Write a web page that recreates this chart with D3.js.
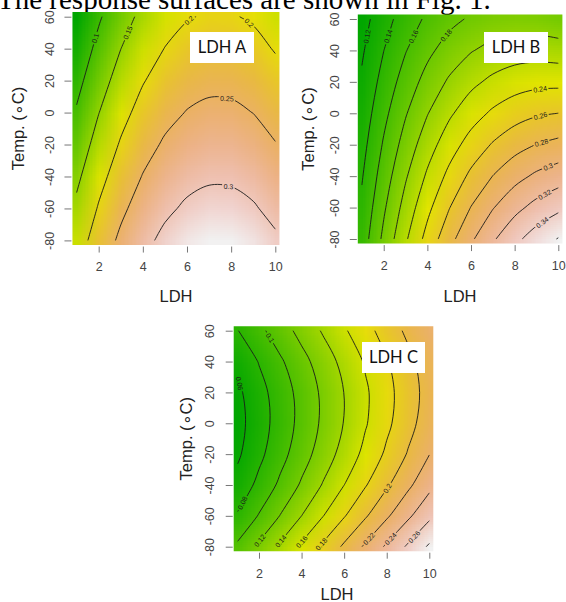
<!DOCTYPE html>
<html>
<head>
<meta charset="utf-8">
<script src="https://cdn.jsdelivr.net/npm/d3@7"></script>
<style>
  body { margin: 0; background: #fff; }
  svg { display: block; }
</style>
</head>
<body>
<div id="my_dataviz"></div>
<script>

// surface grid: columns = LDH, rows = temperature (top row first)
var ldh = [1, 2, 3, 4, 5, 6, 7, 8, 9, 10];
var temp = [60, 40, 20, 0, -20, -40, -60, -80];
var xTicks = [2, 4, 6, 8, 10];
var yTicks = [-80, -60, -40, -20, 0, 20, 40, 60];

var surfaceA = [
    [0.0498, 0.0944, 0.1314, 0.1609, 0.1828, 0.1972, 0.2040, 0.2032, 0.1949, 0.1790],
    [0.0680, 0.1126, 0.1496, 0.1791, 0.2010, 0.2154, 0.2222, 0.2214, 0.2131, 0.1972],
    [0.0862, 0.1308, 0.1678, 0.1973, 0.2192, 0.2336, 0.2404, 0.2396, 0.2313, 0.2154],
    [0.1044, 0.1490, 0.1860, 0.2155, 0.2374, 0.2518, 0.2586, 0.2578, 0.2495, 0.2336],
    [0.1226, 0.1672, 0.2042, 0.2337, 0.2556, 0.2700, 0.2768, 0.2760, 0.2677, 0.2518],
    [0.1408, 0.1854, 0.2224, 0.2519, 0.2738, 0.2882, 0.2950, 0.2942, 0.2859, 0.2700],
    [0.1590, 0.2036, 0.2406, 0.2701, 0.2920, 0.3064, 0.3132, 0.3124, 0.3041, 0.2882],
    [0.1772, 0.2218, 0.2588, 0.2883, 0.3102, 0.3246, 0.3314, 0.3306, 0.3223, 0.3064]
];

var surfaceB = [
    [0.1122, 0.1323, 0.1494, 0.1634, 0.1744, 0.1825, 0.1875, 0.1895, 0.1885, 0.1845],
    [0.1175, 0.1398, 0.1590, 0.1753, 0.1886, 0.1988, 0.2060, 0.2103, 0.2115, 0.2097],
    [0.1227, 0.1472, 0.1687, 0.1872, 0.2027, 0.2152, 0.2246, 0.2311, 0.2345, 0.2349],
    [0.1280, 0.1547, 0.1784, 0.1991, 0.2168, 0.2315, 0.2432, 0.2518, 0.2575, 0.2601],
    [0.1332, 0.1622, 0.1881, 0.2110, 0.2310, 0.2479, 0.2617, 0.2726, 0.2805, 0.2854],
    [0.1385, 0.1697, 0.1978, 0.2230, 0.2451, 0.2642, 0.2803, 0.2934, 0.3035, 0.3106],
    [0.1438, 0.1771, 0.2075, 0.2349, 0.2592, 0.2806, 0.2989, 0.3142, 0.3265, 0.3358],
    [0.1490, 0.1846, 0.2172, 0.2468, 0.2733, 0.2969, 0.3174, 0.3350, 0.3495, 0.3610]
];

var surfaceC = [
    [0.0794, 0.0950, 0.1106, 0.1263, 0.1419, 0.1575, 0.1731, 0.1887, 0.2043, 0.2199],
    [0.0647, 0.0810, 0.0972, 0.1134, 0.1296, 0.1459, 0.1621, 0.1783, 0.1946, 0.2108],
    [0.0561, 0.0730, 0.0898, 0.1066, 0.1235, 0.1403, 0.1571, 0.1740, 0.1908, 0.2077],
    [0.0536, 0.0710, 0.0885, 0.1059, 0.1234, 0.1408, 0.1583, 0.1757, 0.1932, 0.2106],
    [0.0570, 0.0751, 0.0932, 0.1112, 0.1293, 0.1473, 0.1654, 0.1835, 0.2015, 0.2196],
    [0.0666, 0.0852, 0.1039, 0.1226, 0.1413, 0.1599, 0.1786, 0.1973, 0.2160, 0.2346],
    [0.0822, 0.1014, 0.1207, 0.1400, 0.1593, 0.1786, 0.1979, 0.2172, 0.2364, 0.2557],
    [0.1038, 0.1237, 0.1436, 0.1635, 0.1834, 0.2033, 0.2232, 0.2431, 0.2630, 0.2829]
];

var levelsA = [0.1, 0.15, 0.2, 0.25, 0.3];
var levelsB = [0.12, 0.14, 0.16, 0.18, 0.2, 0.22, 0.24, 0.26, 0.28, 0.3, 0.32, 0.34, 0.36];
var levelsC = [0.06, 0.08, 0.1, 0.12, 0.14, 0.16, 0.18, 0.2, 0.22, 0.24, 0.26, 0.28];

// contour labels: [text, LDH, temp] where R put them
var labelsA = [["0.1", 1.88, 46.4], ["0.15", 3.39, 49.6], ["0.2", 6.17, 55.8],
    ["0.2", 8.85, 56.9], ["0.25", 7.8, 7.3], ["0.3", 7.87, -47.6]];
var labelsB = [["0.12", 1.25, 48.8], ["0.14", 2.24, 48.8], ["0.16", 3.36, 48.8],
    ["0.18", 4.84, 49.8], ["0.2", 8.89, 53], ["0.24", 9.16, 17.2], ["0.26", 9.16, 0.3],
    ["0.28", 9.19, -16.9], ["0.3", 9.47, -31.7], ["0.32", 9.34, -50.7], ["0.34", 9.23, -68.7]];
var labelsC = [["0.06", 1.1, 25.9], ["0.08", 1.26, -51.9], ["0.1", 2.6, 56],
    ["0.12", 2.0, -75.6], ["0.14", 2.95, -75.6], ["0.16", 4.0, -76.7], ["0.18", 4.98, -78.9],
    ["0.2", 7.92, -41], ["0.22", 7.06, -73.5], ["0.24", 8.08, -73.5], ["0.26", 9.09, -71]];

var panelNames = ["LDH A", "LDH B", "LDH C"];
var caption = "The response surfaces are shown in Fig. 1.";

var sans = "'Liberation Sans', Arial, sans-serif";

var svg = d3.select("#my_dataviz")
    .append("svg")
    .attr("width", 566)
    .attr("height", 602);

// cut-off line of the page text above the figure
svg.append("text")
    .attr("x", -3)
    .attr("y", 9)
    .style("font-family", "'Liberation Serif', 'Times New Roman', serif")
    .style("font-size", "29px")
    .attr("fill", "#000")
    .text(caption);

// R terrain.colors ramp (hsv based)
function terrain(t) {
    var h, s, v, u;
    if (t < 0.5) {
        u = t / 0.5;
        h = 120 - 60 * u; s = 1; v = 0.65 + 0.25 * u;
    } else {
        u = (t - 0.5) / 0.5;
        h = 60 - 60 * u; s = 1 - u; v = 0.9 + 0.05 * u;
    }
    var l = v * (1 - s / 2);
    var sl = (l === 0 || l === 1) ? 0 : (v - l) / Math.min(l, 1 - l);
    return d3.hsl(h, sl, l).formatRgb();
}

// keep only the real iso-line pieces of a contour ring (drop the grid border)
function isoLines(ring, nx, ny) {
    var pts = ring.slice();
    var first = pts[0], last = pts[pts.length - 1];
    if (first[0] === last[0] && first[1] === last[1]) pts.pop();
    var inside = function (q) {
        return q[0] >= 0.5 - 1e-9 && q[0] <= nx - 0.5 + 1e-9 && q[1] >= 0.5 - 1e-9 && q[1] <= ny - 0.5 + 1e-9;
    };
    var start = pts.findIndex(function (q) { return !inside(q); });
    if (start < 0) return [{ pts: pts, closed: true }];
    var out = [], cur = [];
    for (var k = 0; k < pts.length; k++) {
        var q = pts[(start + k) % pts.length];
        if (inside(q)) cur.push(q);
        else { if (cur.length > 1) out.push({ pts: cur }); cur = []; }
    }
    if (cur.length > 1) out.push({ pts: cur });
    return out;
}

function nearest(lines, px, py) {
    var best = null;
    lines.forEach(function (l) {
        var n = l.pts.length;
        for (var k = 0; k < n - 1; k++) {
            var a = l.pts[k], b = l.pts[k + 1];
            var vx = b[0] - a[0], vy = b[1] - a[1];
            var len2 = vx * vx + vy * vy || 1e-9;
            var t = Math.max(0, Math.min(1, ((px - a[0]) * vx + (py - a[1]) * vy) / len2));
            var qx = a[0] + t * vx, qy = a[1] + t * vy;
            var d = (qx - px) * (qx - px) + (qy - py) * (qy - py);
            if (!best || d < best.d) {
                var p0 = l.pts[Math.max(0, k - 1)], p1 = l.pts[Math.min(n - 1, k + 2)];
                best = { d: d, x: qx, y: qy, angle: Math.atan2(p1[1] - p0[1], p1[0] - p0[0]) * 180 / Math.PI };
            }
        }
    });
    return best;
}

var panels = [
    { z: surfaceA, levels: levelsA, labels: labelsA, xr: [76.6, 275.3], yr: [16.7, 240.4],
      yLabOff: 17.5, ytX: 24, xt: [176, 301.5], box: [190, 32, 64, 31] },
    { z: surfaceB, levels: levelsB, labels: labelsB, xr: [361.9, 558.3], yr: [19, 239],
      yLabOff: 17.5, ytX: 314, xt: [460, 301.5], box: [484, 32, 64, 31] },
    { z: surfaceC, levels: levelsC, labels: labelsC, xr: [237.7, 429.3], yr: [330.7, 546.7],
      yLabOff: 18.5, ytX: 192, xt: [337, 599.5], box: [362, 342, 63, 31] }
];

panels.forEach(function (p, i) {
    var nx = ldh.length, ny = temp.length;
    var x = d3.scaleLinear().domain([ldh[0], ldh[nx - 1]]).range(p.xr);
    var y = d3.scaleLinear().domain([temp[0], temp[ny - 1]]).range(p.yr);
    var values = d3.merge(p.z);
    var color = d3.scaleSequential(terrain).domain(d3.extent(values));

    // the R image was a 25x25 grid, so it runs half a cell past the data range
    var hx = (ldh[nx - 1] - ldh[0]) / 48, hy = (temp[0] - temp[ny - 1]) / 48;
    var left = x(ldh[0] - hx), right = x(ldh[nx - 1] + hx);
    var top = y(temp[0] + hy), bottom = y(temp[ny - 1] - hy);

    var g = svg.append("g");

    g.append("clipPath").attr("id", "clip" + i)
        .append("rect")
        .attr("x", left).attr("y", top)
        .attr("width", right - left).attr("height", bottom - top);

    // heat map: one pixel per grid value, smoothed when scaled up
    var canvas = document.createElement("canvas");
    canvas.width = nx;
    canvas.height = ny;
    var ctx = canvas.getContext("2d");
    p.z.forEach(function (row, r) {
        row.forEach(function (v, c) {
            ctx.fillStyle = color(v);
            ctx.fillRect(c, r, 1, 1);
        });
    });
    var cw = x(ldh[1]) - x(ldh[0]), ch = y(temp[1]) - y(temp[0]);
    g.append("image")
        .attr("href", canvas.toDataURL())
        .attr("x", x(ldh[0]) - cw / 2)
        .attr("y", y(temp[0]) - ch / 2)
        .attr("width", cw * nx)
        .attr("height", ch * ny)
        .attr("preserveAspectRatio", "none")
        .attr("clip-path", "url(#clip" + i + ")");

    // contour lines
    var gx = d3.scaleLinear().domain([0.5, nx - 0.5]).range([ldh[0], ldh[nx - 1]]);
    var gy = d3.scaleLinear().domain([0.5, ny - 0.5]).range([temp[0], temp[ny - 1]]);
    var contours = d3.contours().size([nx, ny]).thresholds(p.levels)(values);

    var lines = [];
    contours.forEach(function (c) {
        c.coordinates.forEach(function (poly) {
            poly.forEach(function (ring) {
                isoLines(ring, nx, ny).forEach(function (l) {
                    lines.push({
                        value: c.value,
                        closed: l.closed,
                        pts: l.pts.map(function (q) { return [x(gx(q[0])), y(gy(q[1]))]; })
                    });
                });
            });
        });
    });

    var mask = g.append("mask").attr("id", "gap" + i)
        .attr("maskUnits", "userSpaceOnUse")
        .attr("x", 0).attr("y", 0).attr("width", 566).attr("height", 602);
    mask.append("rect")
        .attr("x", 0).attr("y", 0).attr("width", 566).attr("height", 602)
        .attr("fill", "white");

    var open = d3.line().curve(d3.curveCatmullRom.alpha(0.5));
    var shut = d3.line().curve(d3.curveCatmullRomClosed.alpha(0.5));

    g.append("g")
        .attr("clip-path", "url(#clip" + i + ")")
        .append("g")
        .attr("mask", "url(#gap" + i + ")")
        .selectAll("path")
        .data(lines)
        .enter().append("path")
        .attr("d", function (d) { return d.closed ? shut(d.pts) : open(d.pts); })
        .attr("fill", "none")
        .attr("stroke", "#1a1a1a")
        .attr("stroke-width", 0.9);

    // contour labels sit in a gap of their line
    p.labels.forEach(function (lab) {
        var mine = lines.filter(function (l) { return Math.abs(l.value - (+lab[0])) < 1e-6; });
        var spot = nearest(mine, x(lab[1]), y(lab[2]));
        if (!spot) return;
        var a = spot.angle;
        if (a > 90) a -= 180;
        if (a < -90) a += 180;
        var tr = "translate(" + spot.x + "," + spot.y + ") rotate(" + a + ")";
        var t = g.append("text")
            .attr("transform", tr)
            .attr("dy", "0.35em")
            .style("text-anchor", "middle")
            .style("font-family", sans)
            .style("font-size", "7px")
            .attr("fill", "#1a1a1a")
            .text(lab[0]);
        var w = t.node().getComputedTextLength() + 3;
        mask.append("rect")
            .attr("transform", tr)
            .attr("x", -w / 2).attr("y", -3.5)
            .attr("width", w).attr("height", 7)
            .attr("fill", "black");
    });

    // axes, R style: ticks only
    var xAxis = g.append("g")
        .attr("transform", "translate(0," + (bottom + 1.5) + ")")
        .call(d3.axisBottom(x).tickValues(xTicks).tickSize(6).tickPadding(10).tickSizeOuter(0)
            .tickFormat(function (d) { return String(d); }));
    xAxis.select(".domain").remove();
    xAxis.selectAll("line").attr("stroke", "#777");
    xAxis.selectAll("text")
        .attr("fill", "#444")
        .style("font-family", sans)
        .style("font-size", "12.5px");

    var yAxis = g.append("g")
        .attr("transform", "translate(" + (left - 1) + ",0)")
        .call(d3.axisLeft(y).tickValues(yTicks).tickSize(7).tickSizeOuter(0)
            .tickFormat(function (d) { return String(d); }));
    yAxis.select(".domain").remove();
    yAxis.selectAll("line").attr("stroke", "#777");
    yAxis.selectAll("text")
        .attr("transform", "rotate(-90)")
        .attr("x", 0)
        .attr("y", -p.yLabOff)
        .attr("dy", null)
        .attr("fill", "#444")
        .style("text-anchor", "middle")
        .style("font-family", sans)
        .style("font-size", "12.5px");

    // axis titles
    g.append("text")
        .attr("x", p.xt[0])
        .attr("y", p.xt[1])
        .style("text-anchor", "middle")
        .style("font-family", sans)
        .style("font-size", "16.5px")
        .attr("fill", "#222")
        .text("LDH");

    g.append("text")
        .attr("transform", "translate(" + p.ytX + "," + ((top + bottom) / 2) + ") rotate(-90)")
        .style("text-anchor", "middle")
        .style("font-family", sans)
        .style("font-size", "16.5px")
        .attr("fill", "#222")
        .text("Temp. (\u2218C)");

    // panel name box
    g.append("rect")
        .attr("x", p.box[0]).attr("y", p.box[1])
        .attr("width", p.box[2]).attr("height", p.box[3])
        .attr("fill", "#fff");
    g.append("text")
        .attr("x", p.box[0] + p.box[2] / 2)
        .attr("y", p.box[1] + p.box[3] / 2)
        .attr("dy", "0.36em")
        .style("text-anchor", "middle")
        .style("font-family", "Lato, 'Open Sans', sans-serif")
        .style("font-size", "16.5px")
        .attr("fill", "#111")
        .text(panelNames[i]);
});

</script>
</body>
</html>
